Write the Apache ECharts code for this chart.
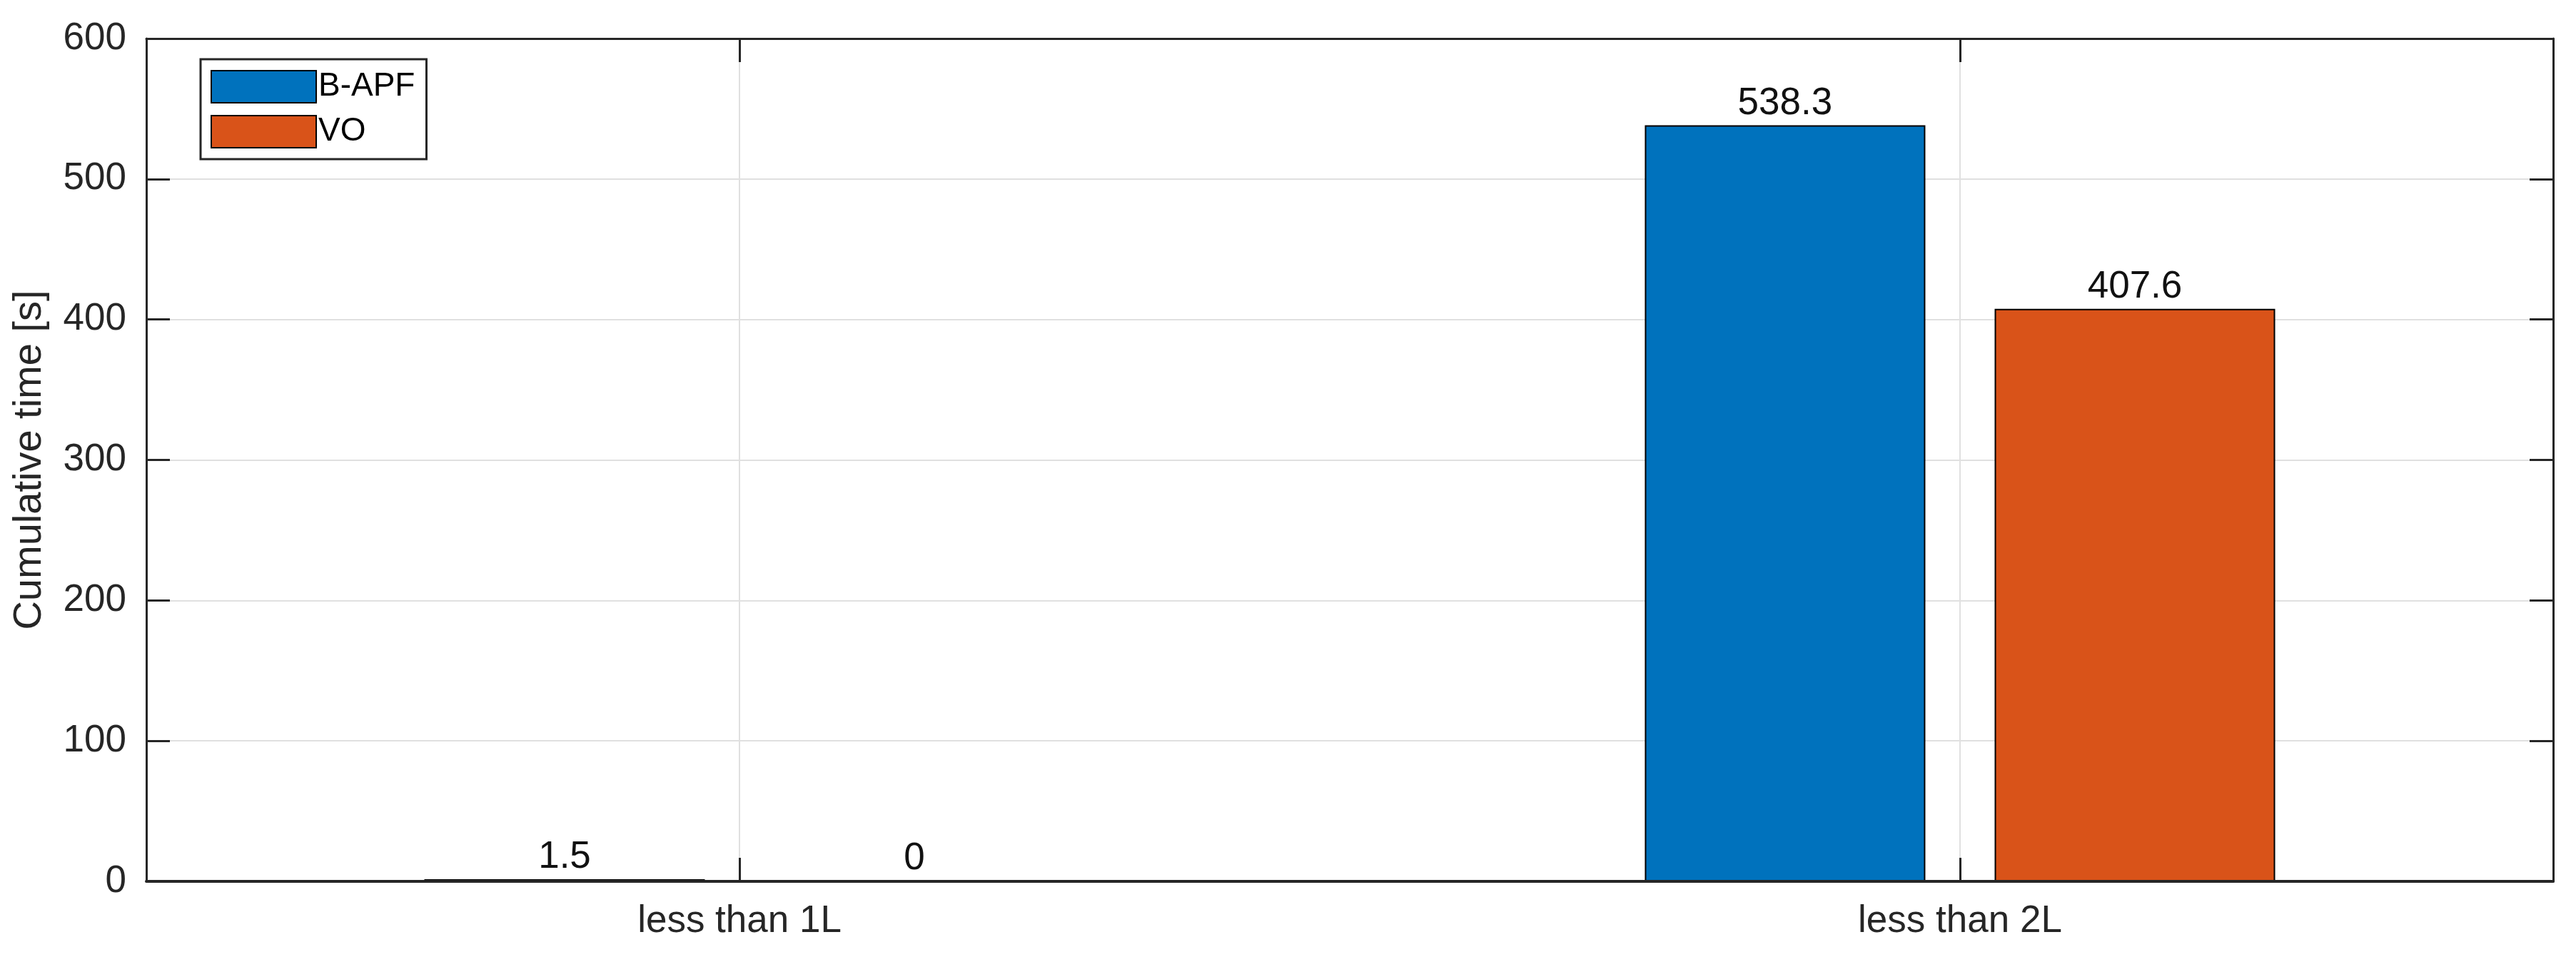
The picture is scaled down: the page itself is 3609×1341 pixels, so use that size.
<!DOCTYPE html>
<html>
<head>
<meta charset="utf-8">
<script src="https://cdn.jsdelivr.net/npm/echarts@6/dist/echarts.min.js"></script>
<style>
html,body{margin:0;padding:0;background:#fff;}
#chart{width:3609px;height:1341px;}
</style>
</head>
<body>
<div id="chart"></div>
<script>
// ---- data ----
const categories = ['less than 1L', 'less than 2L'];
const categoryPos = [1, 2];
const seriesNames = ['B-APF', 'VO'];
const bapfValues = [1.5, 538.3];
const voValues = [0, 407.6];
const yTicks = [0, 100, 200, 300, 400, 500, 600];

const FONT = '"Liberation Sans", Arial, Helvetica, sans-serif';
const AXC = '#262626';
const GRIDC = '#e0e0e0';

const chart = echarts.init(document.getElementById('chart'), null, {renderer: 'canvas'});

const xMin = 0.514, xMax = 2.486;

function toPairs(vals) { return vals.map((v, i) => [categoryPos[i], v]); }

const option = {
  backgroundColor: '#ffffff',
  animation: false,
  textStyle: {fontFamily: FONT},
  grid: {left: 205, right: 32, top: 54, bottom: 106, containLabel: false},
  legend: {
    orient: 'vertical',
    left: 281, top: 83,
    padding: [15, 16, 15, 14],
    itemWidth: 147, itemHeight: 45, itemGap: 16,
    borderColor: AXC, borderWidth: 3,
    backgroundColor: '#fff',
    icon: 'rect',
    textStyle: {fontFamily: FONT, fontSize: 46, color: '#000', padding: [0, 0, 0, -2]},
    data: seriesNames
  },
  xAxis: [{
    type: 'value', position: 'bottom', min: xMin, max: xMax, z: 5,
    axisLine: {show: true, onZero: false, lineStyle: {color: AXC, width: 4}},
    axisTick: {show: true, inside: true, length: 33, customValues: categoryPos, lineStyle: {color: AXC, width: 3}},
    axisLabel: {show: true, customValues: categoryPos, margin: 30, fontSize: 53, color: AXC, fontFamily: FONT,
      formatter: v => categories[categoryPos.indexOf(Math.round(v))] || ''},
    splitLine: {show: true, lineStyle: {color: GRIDC, width: 2}}
  }, {
    type: 'value', position: 'top', min: xMin, max: xMax, z: 5,
    axisLine: {show: true, onZero: false, lineStyle: {color: AXC, width: 3}},
    axisTick: {show: true, inside: true, length: 33, customValues: categoryPos, lineStyle: {color: AXC, width: 3}},
    axisLabel: {show: false},
    splitLine: {show: false}
  }],
  yAxis: [{
    type: 'value', position: 'left', min: yTicks[0], max: yTicks[yTicks.length - 1], interval: 100,
    name: 'Cumulative time [s]', nameLocation: 'middle', nameGap: 135,
    nameTextStyle: {fontSize: 56, color: AXC, fontFamily: FONT},
    axisLine: {show: true, onZero: false, lineStyle: {color: AXC, width: 3}},
    axisTick: {show: true, inside: true, length: 33, lineStyle: {color: AXC, width: 3}},
    axisLabel: {show: true, margin: 28, fontSize: 53, color: AXC, fontFamily: FONT},
    splitLine: {show: true, lineStyle: {color: GRIDC, width: 2}}
  }, {
    type: 'value', position: 'right', min: yTicks[0], max: yTicks[yTicks.length - 1], interval: 100,
    axisLine: {show: true, onZero: false, lineStyle: {color: AXC, width: 3}},
    axisTick: {show: true, inside: true, length: 33, lineStyle: {color: AXC, width: 3}},
    axisLabel: {show: false},
    splitLine: {show: false}
  }],
  series: [{
    name: seriesNames[0], type: 'bar', xAxisIndex: 0, yAxisIndex: 0,
    data: toPairs(bapfValues),
    barWidth: 393, barGap: '24.7%',
    itemStyle: {color: '#0072BD', borderColor: '#000', borderWidth: 2},
    label: {show: true, position: 'top', distance: 4, fontSize: 53, color: '#111', fontFamily: FONT,
      formatter: p => String(p.value[1])}
  }, {
    name: seriesNames[1], type: 'bar', xAxisIndex: 0, yAxisIndex: 0,
    data: toPairs(voValues),
    barWidth: 393, barGap: '24.7%',
    itemStyle: {color: '#D95319', borderColor: '#000', borderWidth: 2},
    label: {show: true, position: 'top', distance: 4, fontSize: 53, color: '#111', fontFamily: FONT,
      formatter: p => String(p.value[1])}
  }]
};
chart.setOption(option);
</script>
</body>
</html>
